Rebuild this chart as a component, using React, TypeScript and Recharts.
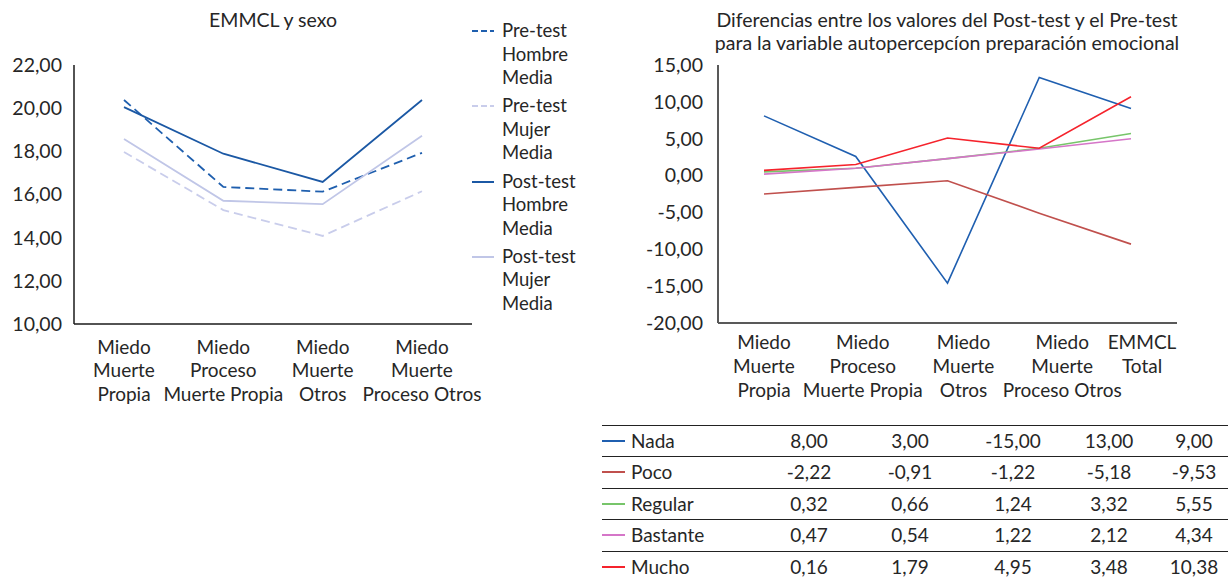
import React from 'react';
import { LineChart, Line, XAxis, YAxis } from 'recharts';

// ---------- Left chart data ----------
const leftCategories = [
  'Miedo\nMuerte\nPropia',
  'Miedo\nProceso\nMuerte Propia',
  'Miedo\nMuerte\nOtros',
  'Miedo\nMuerte\nProceso Otros',
];
const preTestHombre = [20.38, 16.35, 16.13, 17.93];
const preTestMujer = [17.97, 15.28, 14.08, 16.15];
const postTestHombre = [20.05, 17.89, 16.58, 20.38];
const postTestMujer = [18.57, 15.71, 15.55, 18.72];
const leftTicks = [10, 12, 14, 16, 18, 20, 22];
const leftTitle = 'EMMCL y sexo';

// ---------- Right chart data ----------
const rightCategories = [
  'Miedo\nMuerte\nPropia',
  'Miedo\nProceso\nMuerte Propia',
  'Miedo\nMuerte\nOtros',
  'Miedo\nMuerte\nProceso Otros',
  'EMMCL\nTotal',
];
const nada = [8.1, 2.6, -14.6, 13.3, 9.1];
const poco = [-2.5, -1.6, -0.7, -5.1, -9.3];
const regular = [0.5, 1.0, 2.3, 3.7, 5.7];
const bastante = [0.2, 1.0, 2.3, 3.6, 5.0];
const mucho = [0.7, 1.5, 5.1, 3.7, 10.7];
const rightTicks = [-20, -15, -10, -5, 0, 5, 10, 15];
const rightTitle = [
  'Diferencias entre los valores del Post-test y el Pre-test',
  'para la variable autopercepcíon preparación emocional',
];

// ---------- Data table labels ----------
const nadaTable = ['8,00', '3,00', '-15,00', '13,00', '9,00'];
const pocoTable = ['-2,22', '-0,91', '-1,22', '-5,18', '-9,53'];
const regularTable = ['0,32', '0,66', '1,24', '3,32', '5,55'];
const bastanteTable = ['0,47', '0,54', '1,22', '2,12', '4,34'];
const muchoTable = ['0,16', '1,79', '4,95', '3,48', '10,38'];

const FONT = 'Lato, "Open Sans", sans-serif';
const TEXT = '#262626';

const leftSeries = [
  { key: 'preH', name: 'Pre-test\nHombre\nMedia', values: preTestHombre, color: '#1f5fae', dash: '9 5' },
  { key: 'preM', name: 'Pre-test\nMujer\nMedia', values: preTestMujer, color: '#c9cdeb', dash: '9 5' },
  { key: 'postH', name: 'Post-test\nHombre\nMedia', values: postTestHombre, color: '#1b58a4', dash: undefined },
  { key: 'postM', name: 'Post-test\nMujer\nMedia', values: postTestMujer, color: '#c0c6e7', dash: undefined },
];

const rightSeries = [
  { key: 'nada', name: 'Nada', values: nada, table: nadaTable, color: '#1f5fb0' },
  { key: 'poco', name: 'Poco', values: poco, table: pocoTable, color: '#c0504d' },
  { key: 'regular', name: 'Regular', values: regular, table: regularTable, color: '#77c56a' },
  { key: 'bastante', name: 'Bastante', values: bastante, table: bastanteTable, color: '#d576c8' },
  { key: 'mucho', name: 'Mucho', values: mucho, table: muchoTable, color: '#f5232c' },
];

const leftData = leftCategories.map((cat, i) => {
  const row: Record<string, any> = { cat };
  leftSeries.forEach((s) => (row[s.key] = s.values[i]));
  return row;
});

const rightData = rightCategories.map((cat, i) => {
  const row: Record<string, any> = { cat };
  rightSeries.forEach((s) => (row[s.key] = s.values[i]));
  return row;
});

const fmt = (v: number) => v.toFixed(2).replace('.', ',');

const makeTick = (firstDy: number, lineH: number, shifts?: number[]) => (props: any) => {
  const { y, payload, index } = props;
  const x = props.x + (shifts ? shifts[index] || 0 : 0);
  const lines = String(payload.value).split('\n');
  return (
    <text x={x} y={y} textAnchor="middle" fill={TEXT} fontSize={19} fontFamily={FONT}>
      {lines.map((l, i) => (
        <tspan key={i} x={x} dy={i === 0 ? firstDy : lineH}>
          {l}
        </tspan>
      ))}
    </text>
  );
};

// label nudges replicating the reference's wrapped-label placement
const rightLabelShift = [0, 7, 16, 23, 11];

const LeftTick = makeTick(29.5, 23.5);
const RightTick = makeTick(25.5, 24, rightLabelShift);

const colCenters = [809, 910, 1013, 1109, 1194];

export default function App() {
  return (
    <div
      style={{
        position: 'absolute',
        left: 0,
        top: 0,
        width: 1232,
        height: 581,
        background: '#ffffff',
        fontFamily: FONT,
        color: TEXT,
        overflow: 'hidden',
      }}
    >
      {/* Left title */}
      <div
        style={{
          position: 'absolute',
          left: 73,
          width: 400,
          top: 8,
          textAlign: 'center',
          fontSize: 19.5,
          lineHeight: '23px',
        }}
      >
        {leftTitle}
      </div>

      {/* Left chart */}
      <div style={{ position: 'absolute', left: 0, top: 0 }}>
        <LineChart
          width={600}
          height={420}
          data={leftData}
          margin={{ top: 65, right: 128, bottom: 6, left: 0 }}
        >
          <XAxis
            dataKey="cat"
            interval={0}
            padding={{ left: 50, right: 50 }}
            tickLine={false}
            tickSize={0}
            tickMargin={0}
            height={90}
            axisLine={{ stroke: '#1a1a1a', strokeWidth: 1.5 }}
            tick={LeftTick}
          />
          <YAxis
            width={74}
            domain={[10, 22]}
            ticks={leftTicks}
            interval={0}
            tickFormatter={fmt}
            tickLine={false}
            tickSize={0}
            tickMargin={12}
            axisLine={{ stroke: '#1a1a1a', strokeWidth: 1.5 }}
            tick={{ fill: TEXT, fontSize: 19.5, fontFamily: FONT }}
          />
          {leftSeries.map((s) => (
            <Line
              key={s.key}
              dataKey={s.key}
              name={s.name}
              stroke={s.color}
              strokeWidth={1.8}
              strokeDasharray={s.dash}
              dot={false}
              activeDot={false}
              isAnimationActive={false}
            />
          ))}
        </LineChart>
      </div>

      {/* Left legend */}
      {leftSeries.map((s, i) => (
        <div
          key={s.key}
          style={{ position: 'absolute', left: 470, top: 19 + i * 75.3, width: 130 }}
        >
          <svg width={24} height={6} style={{ position: 'absolute', left: 2, top: 9 }}>
            <line x1={0} y1={3} x2={22} y2={3} stroke={s.color} strokeWidth={2} strokeDasharray={s.dash ? '6 3' : undefined} />
          </svg>
          <div style={{ position: 'absolute', left: 32, top: 0, fontSize: 18.5, lineHeight: '23.5px', whiteSpace: 'pre' }}>
            {s.name}
          </div>
        </div>
      ))}

      {/* Right title */}
      <div
        style={{
          position: 'absolute',
          left: 647,
          width: 600,
          top: 8,
          textAlign: 'center',
          fontSize: 19.5,
          lineHeight: '23px',
        }}
      >
        {rightTitle.map((t, i) => (
          <div key={i}>{t}</div>
        ))}
      </div>

      {/* Right chart */}
      <div style={{ position: 'absolute', left: 600, top: 0 }}>
        <LineChart
          width={632}
          height={420}
          data={rightData}
          margin={{ top: 65, right: 55, bottom: 6, left: 0 }}
        >
          <XAxis
            dataKey="cat"
            interval={0}
            padding={{ left: 46, right: 46 }}
            tickLine={false}
            tickSize={0}
            tickMargin={0}
            height={91}
            axisLine={{ stroke: '#595959', strokeWidth: 2 }}
            tick={RightTick}
          />
          <YAxis
            width={118}
            domain={[-20, 15]}
            ticks={rightTicks}
            interval={0}
            tickFormatter={fmt}
            tickLine={false}
            tickSize={0}
            tickMargin={15}
            axisLine={{ stroke: '#595959', strokeWidth: 2 }}
            tick={{ fill: TEXT, fontSize: 19.5, fontFamily: FONT }}
          />
          {rightSeries.map((s) => (
            <Line
              key={s.key}
              dataKey={s.key}
              name={s.name}
              stroke={s.color}
              strokeWidth={1.6}
              dot={false}
              activeDot={false}
              isAnimationActive={false}
            />
          ))}
        </LineChart>
      </div>

      {/* Data table */}
      {rightSeries.map((s, r) => (
        <div
          key={s.key}
          style={{
            position: 'absolute',
            left: 602,
            width: 626,
            top: 425 + r * 31.4,
            height: 31.4,
            borderTop: '1.5px solid #222',
            boxSizing: 'border-box',
            fontSize: 19,
            lineHeight: '30px',
          }}
        >
          <svg width={24} height={4} style={{ position: 'absolute', left: 0, top: 13 }}>
            <line x1={0} y1={2} x2={23} y2={2} stroke={s.color} strokeWidth={2} />
          </svg>
          <span style={{ position: 'absolute', left: 29, top: 0 }}>{s.name}</span>
          {s.table.map((v, c) => (
            <span
              key={c}
              style={{
                position: 'absolute',
                left: colCenters[c] - 602 - 50,
                width: 100,
                textAlign: 'center',
                top: 0,
              }}
            >
              {v}
            </span>
          ))}
        </div>
      ))}
    </div>
  );
}
